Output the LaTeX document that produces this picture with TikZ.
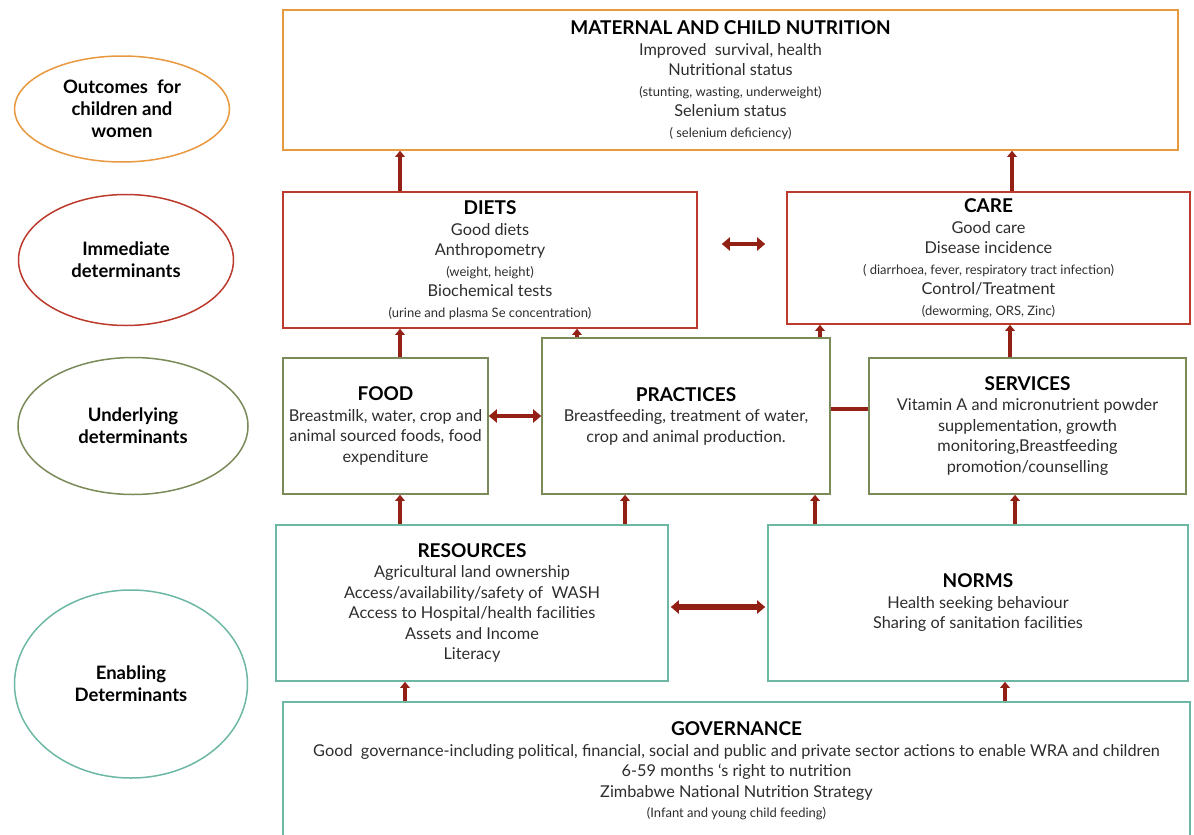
\documentclass[tikz,border=0pt]{standalone}
\usepackage{fontspec}
\setmainfont{Lato}
\usepackage{xcolor}
\definecolor{outorange}{RGB}{232,152,62}
\definecolor{immred}{RGB}{188,58,44}
\definecolor{undolive}{RGB}{122,138,88}
\definecolor{enateal}{RGB}{108,184,164}
\definecolor{linkred}{RGB}{146,32,20}
\definecolor{bodytext}{RGB}{45,45,45}
\usepackage{tikz}
\usetikzlibrary{shapes.geometric}
\usetikzlibrary{arrows.meta}
\newcommand{\heading}[1]{{\fontsize{19}{21}\selectfont\bfseries\color{black}#1}}
\newcommand{\smallnote}[1]{{\fontsize{13}{15}\selectfont #1}}
\tikzset{
    common/.style={draw, rectangle, line width=1.6pt, align=center, text=bodytext,
        font=\fontsize{16.3}{20.5}\selectfont, inner sep=0pt},
    level/.style={draw, ellipse, line width=1.5pt, align=center, inner sep=0pt,
        font=\fontsize{18.5}{22}\selectfont\bfseries},
    outbox/.style={common, draw=outorange},
    immbox/.style={common, draw=immred},
    undbox/.style={common, draw=undolive},
    enabox/.style={common, draw=enateal},
    link/.style={draw=linkred, line width=3.6pt, -{Triangle[length=6pt,width=9.5pt]}},
    twoway/.style={draw=linkred, line width=4.6pt, {Triangle[length=8pt,width=13pt]}-{Triangle[length=8pt,width=13pt]}},
    plainlink/.style={draw=linkred, line width=3.6pt}
}

\begin{document}
\begin{tikzpicture}[x=1pt,y=-1pt]
    \useasboundingbox (0,0) rectangle (1194,835);
    \clip (0,0) rectangle (1194,835);

    \node[level, draw=outorange, minimum width=215pt, minimum height=106pt] (outcomes) at (122,109)
        {Outcomes\ \ for\\children and\\women};
    \node[level, draw=immred, minimum width=215pt, minimum height=131pt] (immediate) at (126,260)
        {Immediate\\determinants};
    \node[level, draw=undolive, minimum width=230pt, minimum height=137pt] (underlying) at (133,426)
        {Underlying\\determinants};
    \node[level, draw=enateal, minimum width=233pt, minimum height=188pt] (enabling) at (131,684)
        {Enabling\\Determinants};

    \node[outbox, minimum width=895pt, minimum height=140pt] (nutrition) at (730.5,80)
        {\heading{MATERNAL AND CHILD NUTRITION}\\
         Improved\ \ survival, health\\
         Nutritional status\\
         \smallnote{(stunting, wasting, underweight)}\\
         Selenium status\\
         \smallnote{( selenium deficiency)}};

    \node[immbox, minimum width=414pt, minimum height=136pt] (diets) at (490,260)
        {\heading{DIETS}\\
         Good diets\\
         Anthropometry\\
         \smallnote{(weight, height)}\\
         Biochemical tests\\
         \smallnote{(urine and plasma Se concentration)}};
    \node[immbox, minimum width=403pt, minimum height=132pt] (care) at (988.5,258)
        {\heading{CARE}\\
         Good care\\
         Disease incidence\\
         \smallnote{( diarrhoea, fever, respiratory tract infection)}\\
         Control/Treatment\\
         \smallnote{(deworming, ORS, Zinc)}};

    \node[undbox, minimum width=205pt, minimum height=136pt] (food) at (385.5,426)
        {\heading{FOOD}\\
         Breastmilk, water, crop and\\
         animal sourced foods, food\\
         expenditure};
    \node[undbox, minimum width=288pt, minimum height=156pt] (practices) at (686,416)
        {\heading{PRACTICES}\\
         Breastfeeding, treatment of water,\\
         crop and animal production.};
    \node[undbox, minimum width=317pt, minimum height=136pt] (services) at (1027.5,426)
        {\heading{SERVICES}\\
         Vitamin A and micronutrient powder\\
         supplementation, growth\\
         monitoring,Breastfeeding\\
         promotion/counselling};

    \node[enabox, minimum width=392pt, minimum height=156pt] (resources) at (472,603)
        {\heading{RESOURCES}\\
         Agricultural land ownership\\
         Access/availability/safety of\ \ WASH\\
         Access to Hospital/health facilities\\
         Assets and Income\\
         Literacy};
    \node[enabox, minimum width=420pt, minimum height=156pt] (norms) at (978,603)
        {\heading{NORMS}\\
         Health seeking behaviour\\
         Sharing of sanitation facilities};

    \node[enabox, minimum width=907pt, minimum height=138pt] (governance) at (736.5,771)
        {\heading{GOVERNANCE}\\
         Good\ \ governance-including political, financial, social and public and private sector actions to enable WRA and children\\
         6-59 months ‘s right to nutrition\\
         Zimbabwe National Nutrition Strategy\\
         \smallnote{(Infant and young child feeding)}};

    \draw[link] ([xshift=-90pt]diets.north) coordinate (d1) -- (d1 |- nutrition.south);
    \draw[link] ([xshift=23.5pt]care.north) coordinate (c1) -- (c1 |- nutrition.south);
    \draw[twoway, shorten <=24pt, shorten >=21pt] ([yshift=16pt]diets.east) coordinate (d2) -- (d2 -| care.west);

    \draw[link] ([xshift=14.5pt]food.north) coordinate (f1) -- (f1 |- diets.south);
    \draw[link] ([xshift=-109pt]practices.north) coordinate (p1) -- (p1 |- diets.south);
    \draw[link] ([xshift=134pt]practices.north) coordinate (p2) -- (p2 |- care.south);
    \draw[link] ([xshift=-17.5pt]services.north) coordinate (s1) -- (s1 |- care.south);
    \draw[twoway, line width=3.6pt] ([yshift=10pt]food.east) coordinate (f2) -- (f2 -| practices.west);
    \draw[plainlink] ([yshift=7pt]practices.east) coordinate (p3) -- (p3 -| services.west);

    \draw[link] ([xshift=-72pt]resources.north) coordinate (r1) -- (r1 |- food.south);
    \draw[link] ([xshift=153pt]resources.north) coordinate (r2) -- (r2 |- practices.south);
    \draw[link] ([xshift=-163pt]norms.north) coordinate (n1) -- (n1 |- practices.south);
    \draw[link] ([xshift=37pt]norms.north) coordinate (n2) -- (n2 |- services.south);
    \draw[twoway, line width=5.4pt, shorten <=2pt, shorten >=2pt] ([yshift=-4pt]resources.east) coordinate (r3) -- (r3 -| norms.west);

    \draw[link] ([xshift=-331.5pt]governance.north) coordinate (g1) -- (g1 |- resources.south);
    \draw[link] ([xshift=268.5pt]governance.north) coordinate (g2) -- (g2 |- norms.south);
\end{tikzpicture}
\end{document}
